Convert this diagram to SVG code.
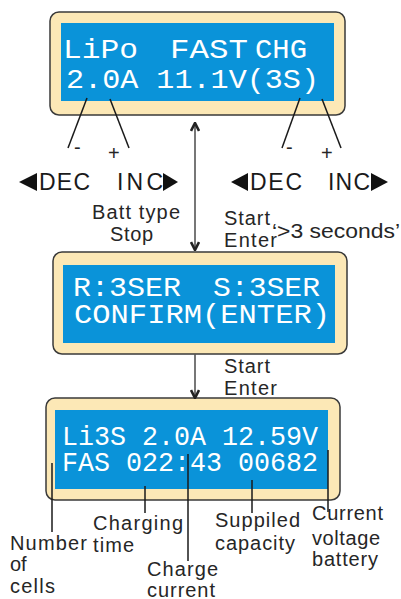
<svg xmlns="http://www.w3.org/2000/svg" width="401" height="599" viewBox="0 0 401 599">
<style>
.bezel{fill:#fce8b6;stroke:#3a3a3a;stroke-width:1.5}
.lcd{fill:#0a93d9}
.lt{font-family:"Liberation Mono","DejaVu Sans Mono",monospace;font-size:27px;fill:#ffffff}
.lb{font-family:"Liberation Sans",Arial,sans-serif;font-size:20px;fill:#262626}
.big{font-family:"Liberation Sans",Arial,sans-serif;font-size:23px;fill:#1a1a1a}
.ld{stroke:#1a1a1a;stroke-width:1.5;fill:none}
.ar{stroke:#555;stroke-width:1.6;fill:none}
.tri{fill:#111}
</style>
<defs>
<marker id="ah" viewBox="0 0 10 10" refX="9" refY="5" markerWidth="10" markerHeight="10" markerUnits="userSpaceOnUse" orient="auto-start-reverse">
<path d="M1,1 L9,5 L1,9" fill="none" stroke="#222" stroke-width="2.6"/>
</marker>
</defs>
<rect width="401" height="599" fill="#ffffff"/>

<g id="screen1">
<rect class="bezel" x="50" y="12" width="295" height="103" rx="9"/>
<rect class="lcd" x="61" y="23" width="273" height="78"/>
<text class="lt" x="63" y="58" textLength="75" lengthAdjust="spacingAndGlyphs">LiPo</text>
<text class="lt" x="170" y="58" textLength="78" lengthAdjust="spacingAndGlyphs">FAST</text>
<text class="lt" x="255" y="58" textLength="52" lengthAdjust="spacingAndGlyphs">CHG</text>
<text class="lt" x="66" y="88" textLength="253" lengthAdjust="spacingAndGlyphs">2.0A 11.1V(3S)</text>
</g>

<g id="screen2">
<rect class="bezel" x="53" y="252" width="294" height="102" rx="9"/>
<rect class="lcd" x="63" y="265" width="272" height="78"/>
<text class="lt" x="73" y="296" textLength="108" lengthAdjust="spacingAndGlyphs">R:3SER</text>
<text class="lt" x="213" y="296" textLength="107" lengthAdjust="spacingAndGlyphs">S:3SER</text>
<text class="lt" x="74" y="323" textLength="256" lengthAdjust="spacingAndGlyphs">CONFIRM(ENTER)</text>
</g>

<g id="screen3">
<rect class="bezel" x="46" y="398" width="294" height="102" rx="9"/>
<rect class="lcd" x="55" y="410" width="273" height="79"/>
<text class="lt" x="62" y="445" textLength="256" lengthAdjust="spacingAndGlyphs">Li3S 2.0A 12.59V</text>
<text class="lt" x="62" y="471" textLength="256" lengthAdjust="spacingAndGlyphs">FAS 022:43 00682</text>
</g>

<g id="connectors">
<line class="ar" x1="195" y1="123" x2="195" y2="250" marker-start="url(#ah)" marker-end="url(#ah)"/>
<line class="ar" x1="195" y1="354" x2="195" y2="398" marker-end="url(#ah)"/>
<line class="ld" x1="87" y1="98" x2="68" y2="148"/>
<line class="ld" x1="110" y1="99" x2="129" y2="148"/>
<line class="ld" x1="300" y1="98" x2="282" y2="148"/>
<line class="ld" x1="322" y1="99" x2="341" y2="148"/>
<line class="ld" x1="52" y1="463" x2="52" y2="532"/>
<line class="ld" x1="145" y1="486" x2="145" y2="513"/>
<line class="ld" x1="188" y1="454" x2="188" y2="561"/>
<line class="ld" x1="252" y1="480" x2="252" y2="513"/>
<line class="ld" x1="328" y1="450" x2="328" y2="512"/>
</g>

<g id="buttons">
<text class="lb" x="74" y="154">-</text>
<text class="lb" x="108" y="160">+</text>
<text class="lb" x="286" y="154">-</text>
<text class="lb" x="321" y="160">+</text>
<polygon class="tri" points="37,173 37,191 19,182"/>
<text class="big" x="39" y="190" textLength="51" lengthAdjust="spacing">DEC</text>
<text class="big" x="117" y="190" textLength="46" lengthAdjust="spacing">INC</text>
<polygon class="tri" points="163,173 163,191 178,182"/>
<polygon class="tri" points="248,173 248,191 231,182"/>
<text class="big" x="250" y="190" textLength="52" lengthAdjust="spacing">DEC</text>
<text class="big" x="328" y="190" textLength="42" lengthAdjust="spacing">INC</text>
<polygon class="tri" points="371,173 371,191 388,182"/>
</g>

<g id="labels">
<text class="lb" x="92" y="219" textLength="88" lengthAdjust="spacing">Batt type</text>
<text class="lb" x="110" y="241" textLength="43" lengthAdjust="spacing">Stop</text>
<text class="lb" x="224" y="225" textLength="46" lengthAdjust="spacing">Start</text>
<text class="lb" x="224" y="247" textLength="53" lengthAdjust="spacing">Enter</text>
<text class="lb" x="272" y="238" textLength="128" lengthAdjust="spacingAndGlyphs">‘&gt;3 seconds’</text>
<text class="lb" x="224" y="373" textLength="46" lengthAdjust="spacing">Start</text>
<text class="lb" x="224" y="395" textLength="53" lengthAdjust="spacing">Enter</text>
<text class="lb" x="10" y="550" textLength="77" lengthAdjust="spacing">Number</text>
<text class="lb" x="10" y="571">of</text>
<text class="lb" x="10" y="593" textLength="45" lengthAdjust="spacing">cells</text>
<text class="lb" x="93" y="530" textLength="90" lengthAdjust="spacing">Charging</text>
<text class="lb" x="93" y="552" textLength="41" lengthAdjust="spacing">time</text>
<text class="lb" x="147" y="576" textLength="71" lengthAdjust="spacing">Charge</text>
<text class="lb" x="147" y="597" textLength="68" lengthAdjust="spacing">current</text>
<text class="lb" x="215" y="527" textLength="85" lengthAdjust="spacing">Suppiled</text>
<text class="lb" x="215" y="550" textLength="80" lengthAdjust="spacing">capacity</text>
<text class="lb" x="312" y="520" textLength="71" lengthAdjust="spacing">Current</text>
<text class="lb" x="312" y="545" textLength="68" lengthAdjust="spacing">voltage</text>
<text class="lb" x="312" y="566" textLength="66" lengthAdjust="spacing">battery</text>
</g>
</svg>
